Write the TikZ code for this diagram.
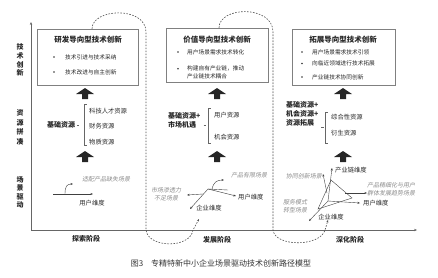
\documentclass[tikz,border=0pt]{standalone}
\usepackage{fontspec}
\setmainfont{Noto Sans CJK SC}
\newfontfamily\slcjk[FakeSlant=0.2]{Noto Sans CJK SC}
\usetikzlibrary{arrows.meta}

\begin{document}
\begin{tikzpicture}[x=1pt,y=-1pt,line width=.4pt,
  box/.style={draw=black!50,inner sep=0pt},
  ttl/.style={font=\bfseries\fontsize{7.5}{9}\selectfont,text=black!85,inner sep=0pt},
  itm/.style={anchor=west,font=\fontsize{5.7}{7.5}\selectfont,align=left,text=black!85,inner sep=0pt},
  res/.style={font=\bfseries\fontsize{7}{9}\selectfont,align=left,text=black!85,inner sep=0pt},
  sub/.style={anchor=west,font=\fontsize{6.3}{8}\selectfont,text=black!85,inner sep=0pt},
  side/.style={font=\bfseries\fontsize{7}{#1}\selectfont,align=center,text=black!85,inner sep=0pt},
  scn/.style={font=\slcjk\fontsize{6}{8}\selectfont,text=black!45,align=center,inner sep=0pt},
  dimlbl/.style={font=\fontsize{6.3}{8}\selectfont,text=black!85,inner sep=0pt},
  stage/.style={font=\bfseries\fontsize{7}{9}\selectfont,text=black!85,inner sep=0pt},
  ax/.style={draw=black!60,-{Stealth[length=3pt,width=2.4pt]}},
  route/.style={draw=black!70,line width=.6pt,dash pattern=on 1.6pt off 1.4pt},
  ln/.style={draw=black!75,-{Stealth[length=2.6pt,width=2pt]}},
  blk/.pic={\fill[black!85] (0,0) -- (9,6) -- (3,6) -- (3,11) -- (-3,11) -- (-3,6) -- (-9,6) -- cycle;}]
\useasboundingbox (0,0) rectangle (438,277);

% axes
\coordinate (O) at (31,230);
\coordinate (top) at (31,22);
\coordinate (right) at (417,230);
\draw[ax] (O) -- (top);
\draw[ax] (O) -- (right);
\node[side=8.8] (s1) at (20,60) {技\\术\\创\\新};
\node[side=9.6] (s2) at (20,127.5) {资\\源\\拼\\凑};
\node[side=8.5] (s3) at (20,192.5) {场\\景\\驱\\动};

% innovation boxes
\node[box,minimum width=101pt,minimum height=56pt] (b1) at (87.5,57) {};
\node[box,minimum width=102pt,minimum height=54pt] (b2) at (217,55) {};
\node[box,minimum width=103pt,minimum height=56pt] (b3) at (343.5,57) {};
\node[ttl] (t1) at (88,40) {研发导向型技术创新};
\node[ttl] (t2) at (217,40) {价值导向型技术创新};
\node[ttl] (t3) at (343,40) {拓展导向型技术创新};
\node[itm] (i11) at (65,57) {技术引进与技术采纳};
\node[itm] (i12) at (65,72) {技术改进与自主创新};
\node[itm] (i21) at (187,52) {用户场景需求技术转化};
\node[itm] (i22) at (187,72.5) {构建自有产业链，推动\\产业链技术耦合};
\node[itm] (i31) at (312,52) {用户场景需求技术引领};
\node[itm] (i32) at (312,63.5) {向临近领域进行技术拓展};
\node[itm] (i33) at (312,77) {产业链技术协同创新};
\foreach \x/\y in {54/57,54/72,178/52,178/68.8,302/52,302/63.5,302/77}
  \fill[black!80] (\x,\y) circle (.9);

% block arrows
\foreach \x in {85,217,343}{
  \pic at (\x,88) {blk};
  \pic at (\x,151) {blk};
}

% resources
\node[res,anchor=west] (r1) at (47,125) {基础资源};
\draw[black!60] (r1.east) ++(1.5,0) -- ++(2.5,0);
\draw[black!60] (86.5,104) -- (84,104) -- (84,145) -- (86.5,145);
\node[sub] (r11) at (89,111) {科技人才资源};
\node[sub] (r12) at (89,126) {财务资源};
\node[sub] (r13) at (89,142) {物质资源};

\node[res,anchor=west] (r2) at (168,120) {基础资源+\\市场机遇};
\draw[black!60] (203.5,125) -- (206,125);
\draw[black!60] (210.5,108) -- (208,108) -- (208,143) -- (210.5,143);
\node[sub] (r21) at (214,115) {用户资源};
\node[sub] (r22) at (214,137) {机会资源};

\node[res,anchor=west] (r3) at (286,114) {基础资源+\\机会资源+\\资源拓展};
\draw[black!60] (321,127) -- (323.5,127);
\draw[black!60] (328,112) -- (325.5,112) -- (325.5,143) -- (328,143);
\node[sub] (r31) at (331,117) {综合性资源};
\node[sub] (r32) at (331,133) {衍生资源};

% scene stage 1
\coordinate (u1a) at (53,194);
\coordinate (u1b) at (93,194);
\draw[ln] (u1a) -- (u1b);
\coordinate (c1a) at (65,194);
\coordinate (c1b) at (73,184);
\draw[ln] (c1a) .. controls (65,186) and (67,184) .. (c1b);
\node[scn] (n11) at (106,179) {适配产品缺失场景};
\node[dimlbl] (d11) at (92,203) {用户维度};

% scene stage 2
\coordinate (o2) at (208,189);
\coordinate (e2) at (190,209);
\coordinate (u2) at (236,196);
\coordinate (w2) at (228,190);
\coordinate (l2) at (187,195);
\draw[ln] (o2) -- (e2);
\draw[ln] (o2) -- (u2);
\draw[black!75] (o2) -- (w2);
\draw[ln] (203,194) -- (l2);
\draw[ln] (212,190) .. controls (213,182) and (217,180) .. (224,180);
\node[scn] (n21) at (249,175) {产品有限场景};
\node[scn] (n22) at (166,194.5) {市场渗透力\\不足场景};
\node[dimlbl,anchor=west] (d21) at (238,197) {用户维度};
\node[dimlbl] (d22) at (209,208) {企业维度};

% scene stage 3
\coordinate (o3) at (328,201);
\coordinate (v3) at (332,168);
\coordinate (u3) at (360,203);
\coordinate (e3) at (309,221);
\draw[ln] (o3) -- (v3);
\draw[ln] (o3) -- (u3);
\draw[ln] (o3) -- (e3);
\draw[black!75] (331,180) -- (352,198) -- (318,209) -- cycle;
\draw[ln] (327,193) -- (323,174);
\draw[ln] (345,193) -- (367,193);
\node[dimlbl,anchor=west] (d31) at (335,170) {产业链维度};
\node[scn,anchor=east] (n31) at (322,176) {协同创新场景};
\node[scn] (n32) at (391,189) {产品精细化与用户\\群体发展趋势场景};
\node[dimlbl,anchor=west] (d32) at (363,203) {用户维度};
\node[scn] (n33) at (295,206) {服务模式\\转型场景};
\node[dimlbl] (d33) at (331,217) {企业维度};

% dashed routes
\draw[route,-{Stealth[length=2.4pt,width=2pt]}] (92,29) .. controls (92,8) and (146,6) .. (146,32)
  -- (146,230) .. controls (148,248) and (190,249) .. (193,230) -- (199,219);
\draw[route,-{Stealth[length=2.4pt,width=2pt]}] (219,28) .. controls (219,6) and (273,5) .. (273,32)
  -- (273,230) .. controls (275,247) and (320,247) .. (325,230) -- (328,220);

% stages and caption
\node[stage] (p1) at (86,239) {探索阶段};
\node[stage] (p2) at (217,240) {发展阶段};
\node[stage] (p3) at (350,240) {深化阶段};
\node[font=\fontsize{8}{10}\selectfont,text=black!80] (cap) at (221,263) {图3\quad 专精特新中小企业场景驱动技术创新路径模型};
\end{tikzpicture}
\end{document}
